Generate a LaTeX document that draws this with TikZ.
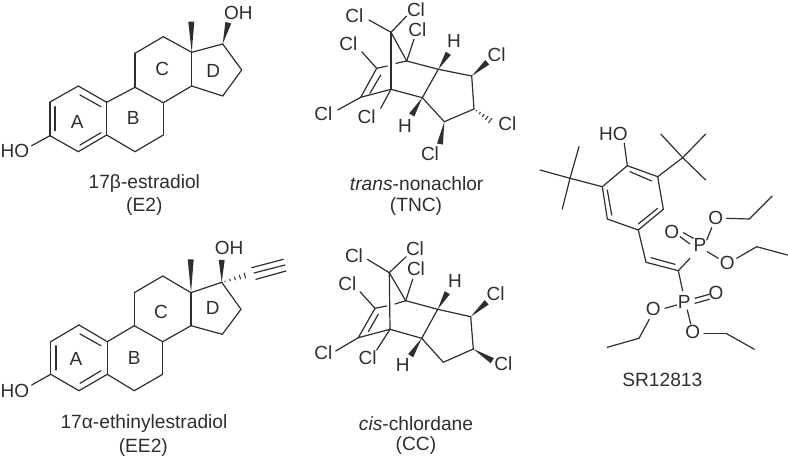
\documentclass[tikz,border=0pt]{standalone}
\usepackage{fontspec}
\setmainfont{Liberation Sans}
\usetikzlibrary{calc}
\definecolor{ink}{HTML}{2E2E2E}
\tikzset{
  bond/.style={draw=ink,line width=1.2pt,line cap=round},
  lbl/.style={font=\fontsize{19}{21}\selectfont,text=ink,inner sep=0pt},
  capt/.style={font=\fontsize{19.2}{21}\selectfont,text=ink,inner sep=0pt}
}
\newcommand{\atomset}[1]{\foreach \n/\x/\y in {#1} {\coordinate (\n) at (\x,\y);}}
\newcommand{\bondset}[1]{\foreach \a/\b in {#1} {\draw[bond] (\a) -- (\b);}}
\newcommand{\wedgeb}[3][3]{\fill[ink] (#2) -- ($(#3)!#1pt!90:(#2)$) -- ($(#3)!#1pt!-90:(#2)$) -- cycle;}
\newcommand{\hashb}[2]{\foreach \t/\w in {0.12/0.7,0.3/1.2,0.48/1.8,0.66/2.4,0.84/2.9,1/3.4}{
  \draw[ink,line width=1pt] ($(#1)!\t!(#2)!\w pt!90:(#2)$) -- ($(#1)!\t!(#2)!\w pt!-90:(#2)$);}}
\begin{document}
\begin{tikzpicture}[x=1pt,y=-1pt]
\useasboundingbox (0,0) rectangle (788,457);
% ---------- E2
\atomset{ea1/50/102,ea2/78.3/86,ea3/106.7/102.3,ea4/106.7/135,ea5/78.3/151.7,ea6/50/135.7,
 eho/31.7/145.7,eb1/135/87.3,eb2/163.3/102.7,eb3/163.3/135,eb4/135/151.7,
 ec1/135/53.3,ec2/163.3/36.7,ec3/191.7/52.3,ec4/191.7/86,
 ed1/222.7/44,ed2/241.7/70,ed3/222.7/96,eme/191.3/21.7,eoh/228.3/22.7,
 ei1/55/106.7,ei2/55/130.7,ei3/80/95,ei4/101/106.7,ei5/80/145,ei6/101/132.7}
\bondset{ea1/ea2,ea2/ea3,ea3/ea4,ea4/ea5,ea5/ea6,ea6/ea1,ea6/eho,ea3/eb1,eb1/eb2,eb2/eb3,eb3/eb4,eb4/ea4,
 eb1/ec1,ec1/ec2,ec2/ec3,ec3/ec4,ec4/eb2,ec3/ed1,ed1/ed2,ed2/ed3,ed3/ec4,ei1/ei2,ei3/ei4,ei5/ei6}
\wedgeb{ec3}{eme}\wedgeb{ed1}{eoh}
\node[lbl] (e-ho) at (15,151) {HO};
\node[lbl] (e-oh) at (238.3,12.7) {OH};
\node[lbl] (e-a) at (77.3,121.7) {A};
\node[lbl] (e-b) at (133.3,118.3) {B};
\node[lbl] (e-c) at (162.3,69.3) {C};
\node[lbl] (e-d) at (213.3,70.7) {D};
\node[capt] (e-cap1) at (144.3,184) {17β-estradiol};
\node[capt] (e-cap2) at (144.3,207) {(E2)};
% ---------- EE2
\atomset{fa1/50.7/341.7,fa2/79/325,fa3/107.3/341.7,fa4/107.3/374.3,fa5/79/390.7,fa6/50.7/374.3,
 fho/31.7/385,fb1/134.3/325.7,fb2/162.7/341.7,fb3/162.7/374.3,fb4/134.3/390.7,
 fc1/134.3/292.7,fc2/162.7/276,fc3/191/292.7,fc4/191/325.7,
 fd1/221.7/282.3,fd2/241/309.3,fd3/222.3/334.3,fme/190.7/259.3,foh/221.7/260,fha/249.3/274.3,
 ft1/251.7/267.7,ft2/283.3/259.3,ft3/254/273,ft4/285/265,ft5/256/279.3,ft6/286/271,
 fi1/56/345.7,fi2/56/370,fi3/80/334,fi4/101/345.7,fi5/80/383.3,fi6/101/370.7}
\bondset{fa1/fa2,fa2/fa3,fa3/fa4,fa4/fa5,fa5/fa6,fa6/fa1,fa6/fho,fa3/fb1,fb1/fb2,fb2/fb3,fb3/fb4,fb4/fa4,
 fb1/fc1,fc1/fc2,fc2/fc3,fc3/fc4,fc4/fb2,fc3/fd1,fd1/fd2,fd2/fd3,fd3/fc4,fi1/fi2,fi3/fi4,fi5/fi6,ft1/ft2,ft3/ft4,ft5/ft6}
\wedgeb{fc3}{fme}\wedgeb{fd1}{foh}\hashb{fd1}{fha}
\node[lbl] (f-ho) at (15,390.7) {HO};
\node[lbl] (f-oh) at (229,248.3) {OH};
\node[lbl] (f-a) at (76,359.3) {A};
\node[lbl] (f-b) at (134.3,358.3) {B};
\node[lbl] (f-c) at (161,312.3) {C};
\node[lbl] (f-d) at (212.7,308.3) {D};
\node[capt] (f-cap1) at (144,423.3) {17α-ethinylestradiol};
\node[capt] (f-cap2) at (143.3,447.7) {(EE2)};
% ---------- TNC
\atomset{tap/391/32.3,tl1/369/20,tl2/406.7/16,tb1/406.7/61,tb2/391/89.3,tl3/414/39.3,
 tc1/376.7/68.3,tc2/360.7/97.3,tl4/361.7/51.7,tl5/337.7/110,tg1/387.3/66,tg2/396/63.3,tl6/380.7/108.3,
 ti1/380.7/75,ti2/370/93.3,tr1/438.3/69.3,tr2/422.3/97.7,tr3/471.7/76,tr4/474/109,tr5/444.3/121.7,
 th1/448.3/53.3,th2/411.7/115,tx1/487.3/62.3,tx2/493.3/122.7,tx3/440/144}
\bondset{tap/tl1,tap/tl2,tap/tb1,tap/tb2,tb1/tl3,tc1/tc2,tc1/tl4,tc2/tl5,tc1/tg1,tg2/tb1,tc2/tb2,tb2/tl6,
 ti1/ti2,tb1/tr1,tb2/tr2,tr1/tr2,tr1/tr3,tr3/tr4,tr4/tr5,tr5/tr2}
\wedgeb{tr1}{th1}\wedgeb{tr2}{th2}\wedgeb{tr3}{tx1}\wedgeb{tr5}{tx3}\hashb{tr4}{tx2}
\node[lbl] (t-1) at (416,10) {Cl};
\node[lbl] (t-2) at (354.3,16) {Cl};
\node[lbl] (t-3) at (417.3,30) {Cl};
\node[lbl] (t-4) at (348.3,44) {Cl};
\node[lbl] (t-5) at (454,41) {H};
\node[lbl] (t-6) at (496.7,54.3) {Cl};
\node[lbl] (t-7) at (323.3,114) {Cl};
\node[lbl] (t-8) at (366.7,116.7) {Cl};
\node[lbl] (t-9) at (405,125.7) {H};
\node[lbl] (t-10) at (507.3,123.3) {Cl};
\node[lbl] (t-11) at (430,153.3) {Cl};
\node[capt] (t-cap1) at (416.7,184) {\textit{trans}-nonachlor};
\node[capt] (t-cap2) at (416,207) {(TNC)};
% ---------- CC
\atomset{cax/389.3/272.7,cl1/367.3/259.3,cl2/406/256.7,cb1/405.7/300.7,cb2/390/329.3,cl3/412.7/279.3,
 cc1/375/308.3,cc2/358.3/337.7,cl4/360/291.7,cl5/335.7/351,cg1/386.7/306,cg2/395/304,cl6/376.7/350,
 ci1/378.3/314.3,ci2/368.3/331.7,cr1/437.7/309.3,cr2/421.7/338.3,cr3/470.7/316.7,cr4/473.3/349,cr5/443.3/362.3,
 ch1/447.3/292.7,ch2/410.7/355.7,cx1/486.7/302.3,cx2/492.3/360.7}
\bondset{cax/cl1,cax/cl2,cax/cb1,cax/cb2,cb1/cl3,cc1/cc2,cc1/cl4,cc2/cl5,cc1/cg1,cg2/cb1,cc2/cb2,cb2/cl6,
 ci1/ci2,cb1/cr1,cb2/cr2,cr1/cr2,cr1/cr3,cr3/cr4,cr4/cr5,cr5/cr2}
\wedgeb{cr1}{ch1}\wedgeb{cr2}{ch2}\wedgeb{cr3}{cx1}\wedgeb{cr4}{cx2}
\node[lbl] (c-1) at (415,249) {Cl};
\node[lbl] (c-2) at (354,256) {Cl};
\node[lbl] (c-3) at (416,269) {Cl};
\node[lbl] (c-4) at (347.3,283.3) {Cl};
\node[lbl] (c-5) at (455,281) {H};
\node[lbl] (c-6) at (495.7,294) {Cl};
\node[lbl] (c-7) at (323.3,352.7) {Cl};
\node[lbl] (c-8) at (367.7,357.7) {Cl};
\node[lbl] (c-9) at (402.7,365) {H};
\node[lbl] (c-10) at (503.3,364) {Cl};
\node[capt] (c-cap1) at (416,423.3) {\textit{cis}-chlordane};
\node[capt] (c-cap2) at (416,445.5) {(CC)};
% ---------- SR12813
\atomset{so/624.3/143.3,sr1/627.3/165.7,sr2/657.7/176.7,sr3/663.3/209.3,sr4/638.3/230,sr5/607.3/219,sr6/602.3/186.7,
 si1/630/171.7,si2/651.7/181,si3/657.7/208.3,si4/638.3/224,si5/611.7/215,si6/607.3/190,
 stR/682.7/157.7,sa1/660.7/134,sa2/705.7/134,sa3/705.7/180,
 stL/570/178.3,sa4/579/146.7,sa5/540/170,sa6/562.3/209,
 sv1/646/262.3,sv2/678.3/270.7,sv3/651/257.7,sv4/675/264.3,
 sp1/690/258.3,sd1/683.3/232.7,sd2/693.3/238.3,sd3/680/236.7,sd4/690/244,
 se1/706.7/240,se2/711.7/227.7,se3/726.7/218.3,se4/749.3/219,se5/772.3/196,
 sf1/707.3/251.7,sf2/718.3/258.3,sf3/736.7/258.3,sf4/756.7/246.7,sf5/787.5/255,
 sp2/682.7/291,sg1/695/298.3,sg2/709.3/294.3,sg3/695/303.3,sg4/709.3/299.3,
 sh1/676.7/305,sh2/665/308.3,sh3/649.3/319.3,sh4/639/338.3,sh5/607.3/347.3,
 sj1/687.3/310,sj2/690.7/324,sj3/704/333.3,sj4/726/333.3,sj5/754.3/349.3}
\bondset{so/sr1,sr1/sr2,sr2/sr3,sr3/sr4,sr4/sr5,sr5/sr6,sr6/sr1,si1/si2,si3/si4,si5/si6,
 sr2/stR,stR/sa1,stR/sa2,stR/sa3,sr6/stL,stL/sa4,stL/sa5,stL/sa6,
 sr4/sv1,sv1/sv2,sv3/sv4,sv2/sp1,sd1/sd2,sd3/sd4,se1/se2,se3/se4,se4/se5,sf1/sf2,sf3/sf4,sf4/sf5,
 sv2/sp2,sg1/sg2,sg3/sg4,sh1/sh2,sh3/sh4,sh4/sh5,sj1/sj2,sj3/sj4,sj4/sj5}
\node[lbl] (s-ho) at (613.3,134) {HO};
\node[lbl] (s-p1) at (700,245) {P};
\node[lbl] (s-o1) at (671.7,231.7) {O};
\node[lbl] (s-o2) at (715.7,218.3) {O};
\node[lbl] (s-o3) at (727.3,262.7) {O};
\node[lbl] (s-p2) at (684.3,301.7) {P};
\node[lbl] (s-o4) at (716,292.7) {O};
\node[lbl] (s-o5) at (653.3,309.3) {O};
\node[lbl] (s-o6) at (692.7,332.3) {O};
\node[capt] (s-cap) at (662.3,380) {SR12813};
\end{tikzpicture}
\end{document}
